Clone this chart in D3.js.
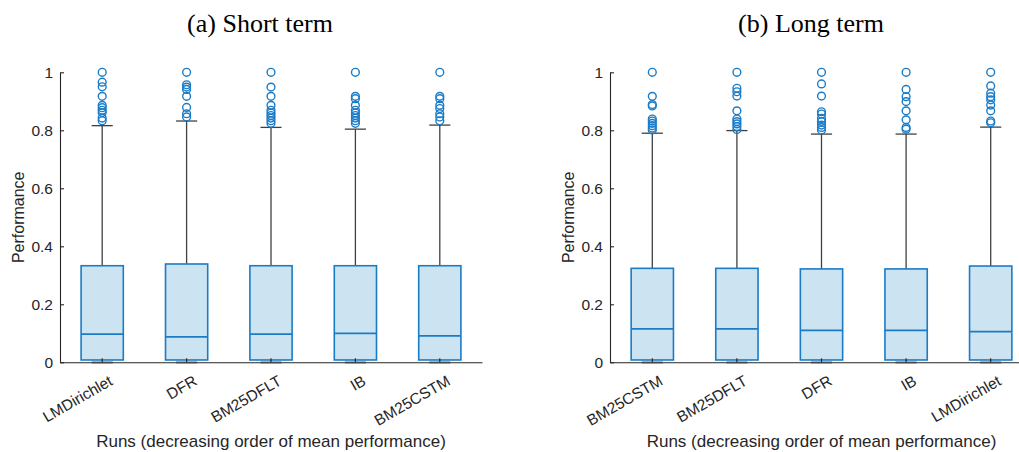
<!DOCTYPE html>
<meta charset="utf-8">
<style>
    body { margin: 0; background: #fff; }
    .title { font-family: "Liberation Serif", "DejaVu Serif", serif; font-size: 26px; fill: #000; }
    .axis-label { font-family: "Liberation Sans", Arial, sans-serif; font-size: 16px; fill: #262626; }
    .x-label { font-size: 17px; }
    .tick-label { font-family: "Liberation Sans", Arial, sans-serif; font-size: 15.5px; fill: #262626; }
    .whisker { stroke: #404040; stroke-width: 1.3px; }
    .box { fill: #cce3f2; stroke: #1a7cc7; stroke-width: 1.6px; }
    .median { stroke: #1a7cc7; stroke-width: 1.8px; }
    .outlier { fill: none; stroke: #1a7cc7; stroke-width: 1.4px; }
</style>
<svg width="1019" height="452"></svg>
<script src="https://cdn.jsdelivr.net/npm/d3@7"></script>
<script>

    // (a) short term
    var shortRuns = ["LMDirichlet", "DFR", "BM25DFLT", "IB", "BM25CSTM"],
        shortQ1 = [0.008, 0.008, 0.008, 0.008, 0.008],
        shortMedian = [0.097, 0.088, 0.097, 0.100, 0.091],
        shortQ3 = [0.333, 0.339, 0.333, 0.333, 0.333],
        shortUpper = [0.816, 0.832, 0.810, 0.804, 0.818],
        shortLower = [0, 0, 0, 0, 0],
        shortOutliers = [
            [1.0, 0.966, 0.95, 0.917, 0.886, 0.878, 0.869, 0.861, 0.842, 0.833],
            [1.0, 0.957, 0.949, 0.941, 0.917, 0.879, 0.857, 0.846],
            [1.0, 0.949, 0.917, 0.886, 0.869, 0.86, 0.851, 0.842, 0.833, 0.824],
            [1.0, 0.917, 0.909, 0.886, 0.869, 0.86, 0.851, 0.842, 0.833, 0.824],
            [1.0, 0.917, 0.909, 0.886, 0.875, 0.857, 0.846, 0.833]
        ];

    // (b) long term
    var longRuns = ["BM25CSTM", "BM25DFLT", "DFR", "IB", "LMDirichlet"],
        longQ1 = [0.008, 0.008, 0.008, 0.008, 0.008],
        longMedian = [0.115, 0.115, 0.110, 0.110, 0.106],
        longQ3 = [0.324, 0.324, 0.322, 0.322, 0.332],
        longUpper = [0.790, 0.799, 0.787, 0.787, 0.811],
        longLower = [0, 0, 0, 0, 0],
        longOutliers = [
            [1.0, 0.917, 0.889, 0.884, 0.839, 0.832, 0.824, 0.816, 0.808, 0.801],
            [1.0, 0.945, 0.933, 0.918, 0.867, 0.839, 0.830, 0.822, 0.813, 0.803],
            [1.0, 0.96, 0.918, 0.864, 0.856, 0.841, 0.830, 0.818, 0.810, 0.801],
            [1.0, 0.941, 0.916, 0.899, 0.867, 0.836, 0.810, 0.804],
            [1.0, 0.953, 0.928, 0.916, 0.905, 0.887, 0.867, 0.832, 0.826]
        ];

    var yTicks = [0, 0.2, 0.4, 0.6, 0.8, 1];

    var svg = d3.select("svg");

    function panel(opt) {
        var x = d3.scaleBand().domain(opt.runs).range([opt.left, opt.right]),
            y = d3.scaleLinear().domain([0, 1]).range([362.3, 72.3]),
            bw = x.bandwidth() * 0.5,
            g = svg.append("g");

        var rows = opt.runs.map(function(r, i) {
            return {run: r, q1: opt.q1[i], med: opt.med[i], q3: opt.q3[i],
                    hi: opt.hi[i], lo: opt.lo[i], out: opt.out[i]};
        });
        var cx = function(d) { return x(d.run) + x.bandwidth() / 2; };

        var box = g.selectAll(".run").data(rows).enter().append("g").attr("class", "run");

        // whiskers
        box.append("line").attr("class", "whisker")
            .attr("x1", cx).attr("x2", cx)
            .attr("y1", function(d) { return y(d.q3); })
            .attr("y2", function(d) { return y(d.hi); });
        box.append("line").attr("class", "whisker")
            .attr("x1", function(d) { return cx(d) - bw / 4; })
            .attr("x2", function(d) { return cx(d) + bw / 4; })
            .attr("y1", function(d) { return y(d.hi); })
            .attr("y2", function(d) { return y(d.hi); });
        box.append("line").attr("class", "whisker")
            .attr("x1", cx).attr("x2", cx)
            .attr("y1", function(d) { return y(d.q1); })
            .attr("y2", function(d) { return y(d.lo); });
        box.append("line").attr("class", "whisker")
            .style("stroke", "#b0b0b0").style("stroke-width", "3px")
            .attr("x1", function(d) { return cx(d) - bw / 4; })
            .attr("x2", function(d) { return cx(d) + bw / 4; })
            .attr("y1", function(d) { return y(d.lo); })
            .attr("y2", function(d) { return y(d.lo); });

        box.append("rect").attr("class", "box")
            .attr("x", function(d) { return cx(d) - bw / 2; })
            .attr("width", bw)
            .attr("y", function(d) { return y(d.q3); })
            .attr("height", function(d) { return y(d.q1) - y(d.q3); });

        box.append("line").attr("class", "median")
            .attr("x1", function(d) { return cx(d) - bw / 2; })
            .attr("x2", function(d) { return cx(d) + bw / 2; })
            .attr("y1", function(d) { return y(d.med); })
            .attr("y2", function(d) { return y(d.med); });

        box.selectAll(".outlier")
            .data(function(d) { return d.out.map(function(v) { return {run: d.run, v: v}; }); })
            .enter().append("circle").attr("class", "outlier")
            .attr("cx", cx)
            .attr("cy", function(d) { return y(d.v); })
            .attr("r", 3.9);

        // axes (MATLAB style: inward ticks)
        var yAxis = g.append("g").attr("transform", "translate(" + opt.left + ",0)")
            .call(d3.axisLeft(y).tickValues(yTicks).tickSizeInner(-4).tickSizeOuter(0)
                .tickFormat(function(d) { return d === 0 || d === 1 ? d3.format("d")(d) : d3.format(".1f")(d); }));
        yAxis.selectAll("path, line").attr("stroke", "#262626").attr("stroke-width", 1.1);
        yAxis.selectAll("text").attr("class", "tick-label").attr("x", -7).style("font", null);

        var xAxis = g.append("g").attr("transform", "translate(0," + y(0) + ")")
            .call(d3.axisBottom(x).tickSizeInner(-4).tickSizeOuter(0));
        xAxis.selectAll("path, line").attr("stroke", "#262626").attr("stroke-width", 1.1);
        xAxis.selectAll("text")
            .attr("class", "tick-label").style("font", null)
            .attr("text-anchor", "end")
            .attr("y", 0).attr("dy", "0.72em")
            .attr("transform", "translate(6,12) rotate(-30)");

        g.append("text").attr("class", "axis-label")
            .attr("transform", "translate(" + opt.ylabelX + "," + y(0.5) + ") rotate(-90)")
            .attr("text-anchor", "middle")
            .text("Performance");

        g.append("text").attr("class", "axis-label x-label")
            .attr("x", (opt.left + opt.right) / 2).attr("y", 447)
            .attr("text-anchor", "middle")
            .text("Runs (decreasing order of mean performance)");

        g.append("text").attr("class", "title")
            .attr("x", opt.titleX).attr("y", 32)
            .attr("text-anchor", "middle")
            .text(opt.title);
    }

    panel({runs: shortRuns, q1: shortQ1, med: shortMedian, q3: shortQ3, hi: shortUpper, lo: shortLower,
           out: shortOutliers, left: 60, right: 482, ylabelX: 24, titleX: 260, title: "(a) Short term"});
    panel({runs: longRuns, q1: longQ1, med: longMedian, q3: longQ3, hi: longUpper, lo: longLower,
           out: longOutliers, left: 610, right: 1033, ylabelX: 574, titleX: 811, title: "(b) Long term"});

</script>
